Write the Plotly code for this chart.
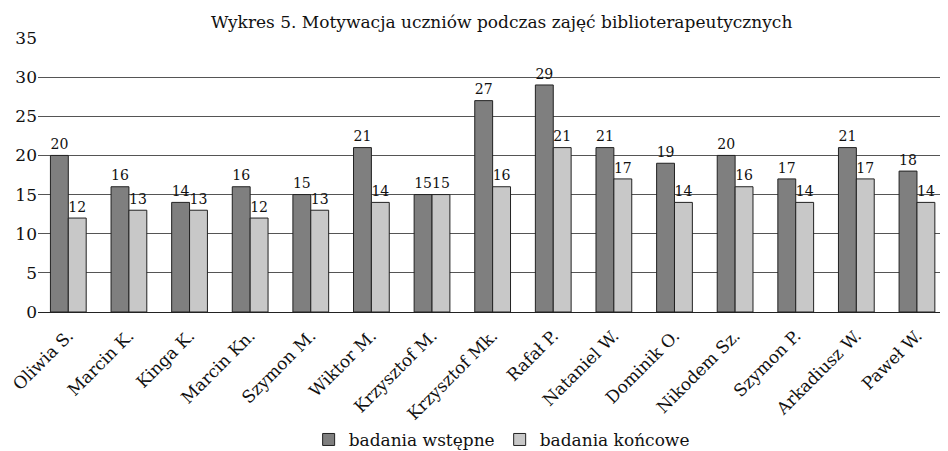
import plotly.graph_objects as go

categories = ["Oliwia S.", "Marcin K.", "Kinga K.", "Marcin Kn.", "Szymon M.", "Wiktor M.",
              "Krzysztof M.", "Krzysztof Mk.", "Rafał P.", "Nataniel W.", "Dominik O.",
              "Nikodem Sz.", "Szymon P.", "Arkadiusz W.", "Paweł W."]
wstepne = [20, 16, 14, 16, 15, 21, 15, 27, 29, 21, 19, 20, 17, 21, 18]
koncowe = [12, 13, 13, 12, 13, 14, 15, 16, 21, 17, 14, 16, 14, 17, 14]
y_ticks = [0, 5, 10, 15, 20, 25, 30, 35]

FONT = "DejaVu Serif"

fig = go.Figure()
fig.add_trace(go.Bar(x=categories, y=wstepne, name="badania wstępne",
                     marker=dict(color="#7f7f7f", line=dict(color="#222", width=1)),
                     text=wstepne, textposition="outside", cliponaxis=False,
                     textfont=dict(family=FONT, size=17, color="#111")))
fig.add_trace(go.Bar(x=categories, y=koncowe, name="badania końcowe",
                     marker=dict(color="#c8c8c8", line=dict(color="#222", width=1)),
                     text=koncowe, textposition="outside", cliponaxis=False,
                     textfont=dict(family=FONT, size=17, color="#111")))

# page body adds an 8px offset; figure sized to fit inside the body
fig.update_layout(
    width=932, height=443,
    margin=dict(l=30, r=0, t=30, b=139, autoexpand=False),
    paper_bgcolor="white", plot_bgcolor="white",
    barmode="group", bargap=0.41, bargroupgap=0,
    font=dict(family=FONT, size=17, color="#111"),
    title=dict(text="Wykres 5. Motywacja uczniów podczas zajęć biblioterapeutycznych",
               x=0.514, xanchor="center", xref="paper", y=0.968, yanchor="middle",
               font=dict(family=FONT, size=17, color="#111")),
    legend=dict(orientation="h", x=0.514, xanchor="center", yref="container",
                y=0.025, yanchor="middle", itemwidth=30,
                font=dict(family=FONT, size=17, color="#111")),
    showlegend=True,
)
fig.update_xaxes(range=[-0.5, 14.38], tickangle=-45, showgrid=False,
                 showline=True, linecolor="#222", linewidth=1, automargin=False,
                 ticklabelstandoff=6,
                 tickfont=dict(family=FONT, size=17, color="#111"), ticks="")
fig.update_yaxes(range=[0, 35], tickvals=y_ticks, showgrid=True, gridcolor="#555",
                 gridwidth=1, zeroline=False, showline=False, automargin=False,
                 tickfont=dict(family=FONT, size=17, color="#111"), ticks="")

fig.write_html("out.html")
